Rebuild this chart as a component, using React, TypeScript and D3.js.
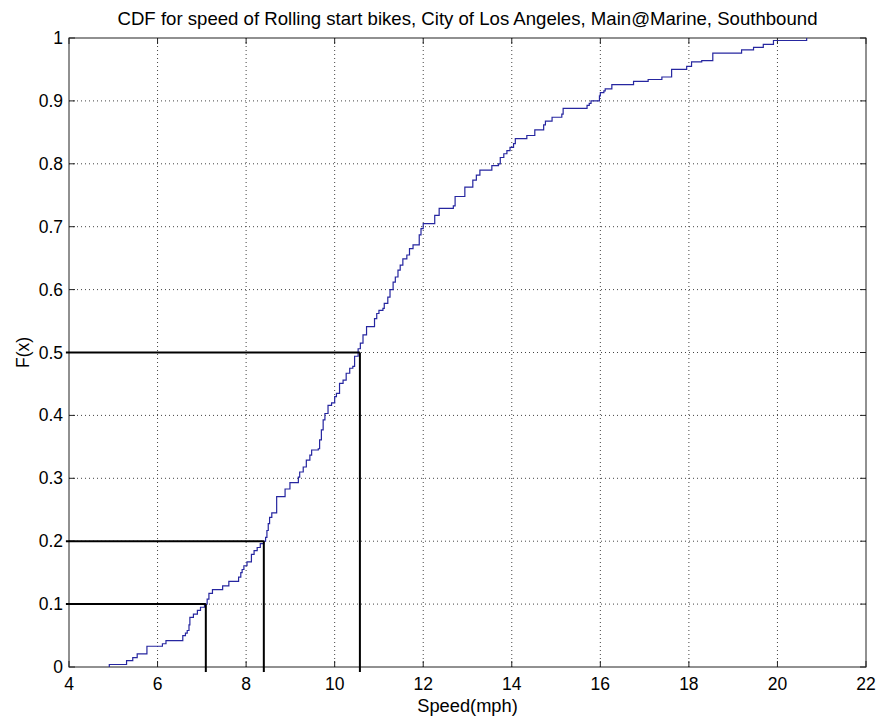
import React from "react";
import * as d3 from "d3";

const speeds: number[] = [
  4.91, 4.91, 5.30, 5.44, 5.54, 5.76, 6.11, 6.19, 6.57, 6.63, 6.67, 6.71, 6.73, 6.81, 6.90, 6.97,
  7.06, 7.12, 7.16, 7.24, 7.47, 7.61, 7.83, 7.88, 7.91, 7.95, 8.02, 8.12, 8.18, 8.25, 8.32, 8.40,
  8.44, 8.47, 8.50, 8.53, 8.58, 8.69, 8.88, 8.99, 9.18, 9.21, 9.29, 9.36, 9.44, 9.48, 9.63, 9.66,
  9.70, 9.74, 9.78, 9.85, 9.93, 10.00, 10.04, 10.11, 10.19, 10.26, 10.34, 10.41, 10.45, 10.53, 10.58,
  10.64, 10.72, 10.90, 10.95, 11.00, 11.09, 11.12, 11.20, 11.25, 11.32, 11.37, 11.43, 11.48, 11.54,
  11.63, 11.69, 11.77, 11.91, 11.95, 12.00, 12.26, 12.36, 12.68, 12.72, 12.94, 13.12, 13.20, 13.28,
  13.55, 13.70, 13.74, 13.82, 13.89, 13.96, 14.04, 14.08, 14.34, 14.52, 14.72, 14.76, 14.91, 15.13,
  15.16, 15.70, 15.75, 15.79, 15.98, 16.00, 16.08, 16.11, 16.26, 16.75, 17.08, 17.39, 17.61, 17.95,
  18.06, 18.29, 18.54, 19.19, 19.46, 19.68, 19.91, 20.66,
];
const cdfValues: number[] = [
  0.000, 0.004, 0.010, 0.015, 0.021, 0.033, 0.037, 0.042, 0.050, 0.054, 0.058, 0.067, 0.079, 0.084, 0.090, 0.095,
  0.100, 0.108, 0.117, 0.123, 0.129, 0.136, 0.143, 0.150, 0.155, 0.161, 0.167, 0.179, 0.185, 0.190, 0.196, 0.200,
  0.206, 0.217, 0.228, 0.238, 0.245, 0.271, 0.283, 0.293, 0.302, 0.310, 0.318, 0.329, 0.337, 0.345, 0.347, 0.361,
  0.377, 0.393, 0.403, 0.416, 0.420, 0.430, 0.435, 0.451, 0.456, 0.467, 0.475, 0.478, 0.494, 0.506, 0.515,
  0.528, 0.541, 0.554, 0.562, 0.567, 0.570, 0.578, 0.588, 0.600, 0.612, 0.620, 0.631, 0.639, 0.649,
  0.655, 0.665, 0.671, 0.687, 0.697, 0.705, 0.718, 0.729, 0.733, 0.748, 0.763, 0.774, 0.782, 0.790,
  0.797, 0.800, 0.810, 0.816, 0.821, 0.826, 0.832, 0.840, 0.845, 0.854, 0.862, 0.868, 0.874, 0.879,
  0.888, 0.893, 0.896, 0.900, 0.908, 0.913, 0.916, 0.919, 0.926, 0.931, 0.934, 0.938, 0.950, 0.955,
  0.962, 0.964, 0.976, 0.981, 0.985, 0.990, 0.996, 1.000,
];

const refSpeeds: number[] = [7.09, 8.4, 10.57];
const refLevels: number[] = [0.1, 0.2, 0.5];

const xTicks: number[] = [4, 6, 8, 10, 12, 14, 16, 18, 20, 22];
const yTicks: number[] = [0, 0.1, 0.2, 0.3, 0.4, 0.5, 0.6, 0.7, 0.8, 0.9, 1];

const titleText = "CDF for speed of Rolling start bikes, City of Los Angeles, Main@Marine, Southbound";
const xLabel = "Speed(mph)";
const yLabel = "F(x)";

const W = 879;
const H = 719;
const L = 69, R = 866, T = 38, B = 667;
const FONT = "'Liberation Sans', Arial, sans-serif";

export default function App() {
  const x = d3.scaleLinear().domain([4, 22]).range([L, R]);
  const y = d3.scaleLinear().domain([0, 1]).range([B, T]);
  const pts = speeds.map((s, i) => [s, cdfValues[i]] as [number, number]);
  const line = d3
    .line<[number, number]>()
    .x((d) => x(d[0]))
    .y((d) => y(d[1]))
    .curve(d3.curveStepAfter);
  const tl = 6;
  return (
    <svg
      width={W}
      height={H}
      style={{ position: "absolute", left: 0, top: 0, background: "#fff" }}
      fontFamily={FONT}
    >
      <rect x={0} y={0} width={W} height={H} fill="#fff" />
      {/* grid */}
      {xTicks.slice(1, -1).map((t) => (
        <line key={"gx" + t} x1={x(t)} x2={x(t)} y1={T} y2={B} stroke="#444" strokeWidth={1} strokeDasharray="1,3" />
      ))}
      {yTicks.slice(1, -1).map((t) => (
        <line key={"gy" + t} x1={L} x2={R} y1={y(t)} y2={y(t)} stroke="#444" strokeWidth={1} strokeDasharray="1,3" />
      ))}
      {/* box */}
      <rect x={L} y={T} width={R - L} height={B - T} fill="none" stroke="#222" strokeWidth={1} />
      {/* ticks */}
      {xTicks.map((t) => (
        <g key={"tx" + t}>
          <line x1={x(t)} x2={x(t)} y1={B} y2={B - tl} stroke="#222" />
          <line x1={x(t)} x2={x(t)} y1={T} y2={T + tl} stroke="#222" />
          <text x={x(t)} y={B + 23} textAnchor="middle" fontSize={17.5} fill="#000">
            {t}
          </text>
        </g>
      ))}
      {yTicks.map((t) => (
        <g key={"ty" + t}>
          <line x1={L} x2={L + tl} y1={y(t)} y2={y(t)} stroke="#222" />
          <line x1={R} x2={R - tl} y1={y(t)} y2={y(t)} stroke="#222" />
          <text x={L - 6} y={y(t) + 6} textAnchor="end" fontSize={17.5} fill="#000">
            {t}
          </text>
        </g>
      ))}
      {/* CDF curve */}
      <path d={line(pts) || ""} fill="none" stroke="#2626a0" strokeWidth={1.2} />
      {/* reference lines */}
      {refSpeeds.map((s, i) => (
        <g key={"ref" + i}>
          <line x1={x(3.93)} x2={x(s)} y1={y(refLevels[i])} y2={y(refLevels[i])} stroke="#000" strokeWidth={2} />
          <line x1={x(s)} x2={x(s)} y1={y(-0.008)} y2={y(refLevels[i])} stroke="#000" strokeWidth={2} />
        </g>
      ))}
      {/* labels */}
      <text x={(L + R) / 2} y={25} textAnchor="middle" fontSize={18.6} fill="#000">
        {titleText}
      </text>
      <text x={(L + R) / 2} y={712} textAnchor="middle" fontSize={18.3} fill="#000">
        {xLabel}
      </text>
      <text
        transform={`translate(29, ${(T + B) / 2}) rotate(-90)`}
        textAnchor="middle"
        fontSize={17.5}
        fill="#000"
      >
        {yLabel}
      </text>
    </svg>
  );
}
